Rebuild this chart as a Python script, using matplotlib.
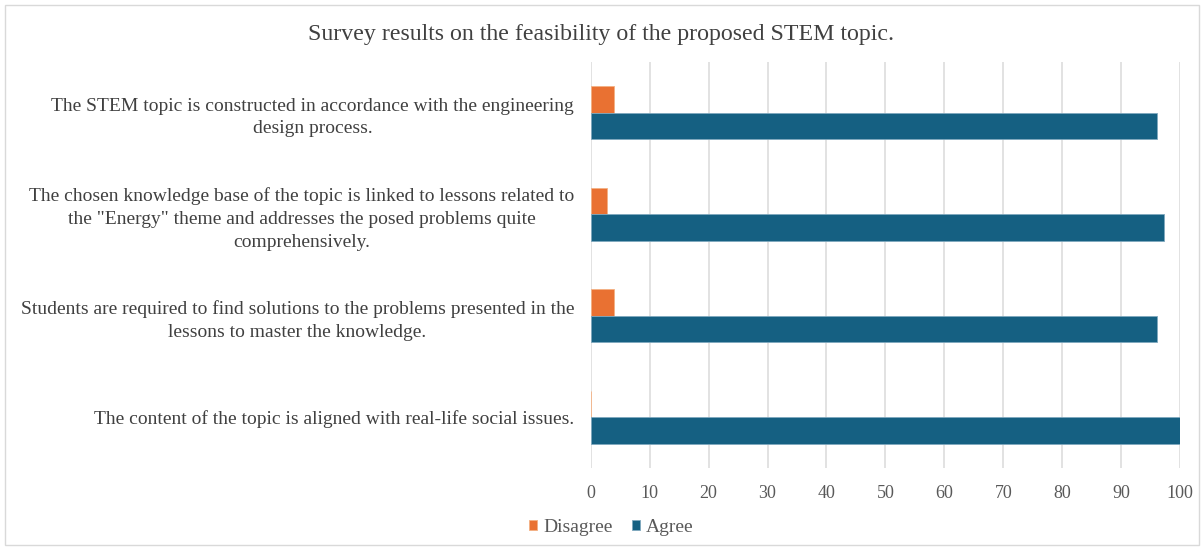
import matplotlib
matplotlib.use("Agg")
import matplotlib.pyplot as plt
import numpy as np
from matplotlib.patches import Rectangle

plt.rcParams['font.family'] = ['Liberation Serif', 'DejaVu Serif']

title = "Survey results on the feasibility of the proposed STEM topic."
categories = [
    "The STEM topic is constructed in accordance with the engineering\ndesign process.",
    "The chosen knowledge base of the topic is linked to lessons related to\nthe \"Energy\" theme and addresses the posed problems quite\ncomprehensively.",
    "Students are required to find solutions to the problems presented in the\nlessons to master the knowledge.",
    "The content of the topic is aligned with real-life social issues.",
]
disagree = [4, 2.7, 4, 0]
agree = [96, 97.3, 96, 100]
xticks = list(range(0, 101, 10))

fig = plt.figure(figsize=(12.03, 5.48), dpi=100)
ax = fig.add_axes([0.491, 0.146, 0.490, 0.741])

y = np.arange(len(categories))
h = 0.26
c_dis = "#E97132"
c_agr = "#156082"
ax.barh(y - h/2, disagree, height=h, color=c_dis, edgecolor="#F4B183", linewidth=0.6, label="Disagree", zorder=3)
ax.barh(y + h/2, agree, height=h, color=c_agr, edgecolor="#7FA8BE", linewidth=0.6, label="Agree", zorder=3)

ax.set_ylim(len(categories) - 0.5, -0.5)
ax.set_xlim(0, 100)
ax.set_xticks(xticks)
ax.set_yticks(y)
ax.set_yticklabels(categories, fontsize=14, color="#404040", linespacing=1.44,
                   multialignment='center')
ax.tick_params(axis='x', labelsize=13, labelcolor="#595959", length=0, pad=12)
ax.tick_params(axis='y', length=0, pad=12)
ax.grid(axis='x', color="#DDDDDD", linewidth=1.2, zorder=0)
for s in ax.spines.values():
    s.set_visible(False)

fig.text(0.5, 0.937, title, ha='center', va='center', fontsize=17.2, color="#404040")

leg = fig.legend(loc='center', bbox_to_anchor=(0.508, 0.037), ncol=2, frameon=False,
                 fontsize=14, handlelength=0.42, handleheight=0.42, handletextpad=0.31,
                 columnspacing=1.0)
for t in leg.get_texts():
    t.set_color("#595959")

fig.patches.append(Rectangle((0.004, 0.006), 0.993, 0.985, transform=fig.transFigure,
                             fill=False, edgecolor="#D9D9D9", linewidth=1.0))

fig.savefig("out.png", dpi=100)
